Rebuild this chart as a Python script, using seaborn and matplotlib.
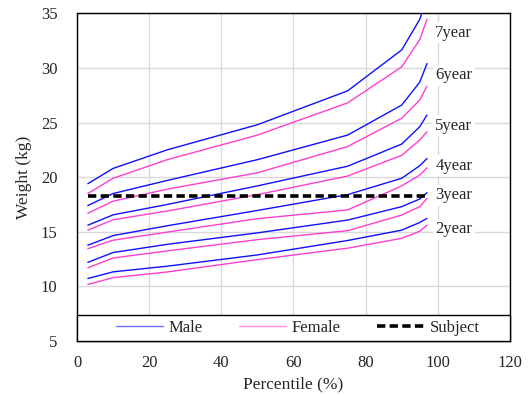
import numpy as np
import pandas as pd
import matplotlib
matplotlib.use("Agg")
import matplotlib.pyplot as plt
from matplotlib.lines import Line2D
from matplotlib.patches import Rectangle
import seaborn as sns

# Growth reference: weight (kg) by percentile, per age and sex
percentiles = [3, 10, 25, 50, 75, 90, 95, 97]
ages = ["2year", "3year", "4year", "5year", "6year", "7year"]

male_2 = [10.72, 11.33, 11.85, 12.88, 14.20, 15.15, 15.85, 16.23]
male_3 = [12.20, 13.10, 13.85, 14.90, 16.07, 17.30, 18.00, 18.58]
male_4 = [13.77, 14.65, 15.55, 16.95, 18.40, 19.90, 21.05, 21.70]
male_5 = [15.60, 16.55, 17.50, 19.20, 21.00, 23.03, 24.62, 25.69]
male_6 = [17.40, 18.50, 19.70, 21.60, 23.85, 26.60, 28.70, 30.40]
male_7 = [19.40, 20.80, 22.50, 24.80, 27.90, 31.65, 34.45, 36.40]

female_2 = [10.18, 10.80, 11.32, 12.45, 13.50, 14.40, 15.05, 15.61]
female_3 = [11.70, 12.60, 13.25, 14.28, 15.10, 16.53, 17.30, 18.05]
female_4 = [13.45, 14.23, 14.97, 16.20, 17.00, 19.20, 20.20, 20.85]
female_5 = [15.15, 16.10, 16.90, 18.40, 20.10, 22.00, 23.40, 24.16]
female_6 = [16.70, 17.80, 18.90, 20.40, 22.80, 25.40, 27.06, 28.34]
female_7 = [18.50, 19.90, 21.60, 23.85, 26.80, 30.10, 32.60, 34.45]

subject_weight = [18.3] * len(percentiles)

# Age labels placed at the right end of the curves
label_x = 99.3
label_y = [15.22, 18.36, 21.05, 24.70, 29.35, 33.20]

male = [male_2, male_3, male_4, male_5, male_6, male_7]
female = [female_2, female_3, female_4, female_5, female_6, female_7]

rows = []
for age, m, f in zip(ages, male, female):
    for p, wm, wf in zip(percentiles, m, f):
        rows.append({"Percentile": p, "Weight": wm, "Sex": "Male", "Age": age})
        rows.append({"Percentile": p, "Weight": wf, "Sex": "Female", "Age": age})
curves = pd.DataFrame(rows)
subject = pd.DataFrame({"Percentile": percentiles, "Weight": subject_weight})

sns.set_style("white")
plt.rcParams["font.family"] = ["Liberation Serif", "DejaVu Serif"]

BLUE = "#1010ff"
PINK = "#ff3fcf"

fig = plt.figure(figsize=(5.29, 3.95), dpi=100)
ax = fig.add_axes([0.1456, 0.1367, 0.964 - 0.1456, 0.9663 - 0.1367])

sns.lineplot(data=curves, x="Percentile", y="Weight", hue="Sex", units="Age",
             estimator=None, palette={"Male": BLUE, "Female": PINK},
             linewidth=1.0, legend=False, ax=ax, zorder=3)
sns.lineplot(data=subject, x="Percentile", y="Weight", color="black",
             linewidth=2.6, linestyle=(0, (2.3, 1.2)), ax=ax, zorder=4)

for txt, y in zip(ages, label_y):
    ax.text(label_x, y, txt, fontsize=12, va="center", ha="left", zorder=5,
            bbox=dict(boxstyle="square,pad=0.15", fc="white", ec="none"))

ax.set_xlim(0, 120)
ax.set_ylim(5, 35)
ax.set_xticks(np.arange(0, 121, 20))
ax.set_yticks(np.arange(5, 36, 5))
ax.grid(True, color="#d9d9d9", linewidth=1.0)
ax.set_axisbelow(True)
ax.tick_params(length=0, labelsize=12)
ax.tick_params(axis="y", pad=14)
ax.tick_params(axis="x", pad=10)
ax.set_xlabel("Percentile (%)", fontsize=12.5, labelpad=4)
ax.set_ylabel("Weight (kg)", fontsize=12.5, labelpad=6)
for s in ax.spines.values():
    s.set_color("black")
    s.set_linewidth(1.0)
    s.set_visible(True)

# Boxed legend strip along the bottom of the plot area
ax.add_patch(Rectangle((0, 0), 1, 0.079, transform=ax.transAxes, fc="white",
                       ec="black", lw=1.0, zorder=6, clip_on=False))
handles = [
    Line2D([], [], color=BLUE, lw=1.0, alpha=0.6),
    Line2D([], [], color=PINK, lw=1.0, alpha=0.6),
    Line2D([], [], color="black", lw=2.6, linestyle=(0, (2.3, 1.2))),
]
leg = ax.legend(handles, ["Male", "Female", "Subject"], loc="center",
                bbox_to_anchor=(0.51, 0.0395), ncol=3, frameon=False,
                fontsize=12, handlelength=2.8, handletextpad=0.35,
                columnspacing=2.2, borderpad=0.0)
leg.set_zorder(7)

fig.savefig("out.png", dpi=100)
